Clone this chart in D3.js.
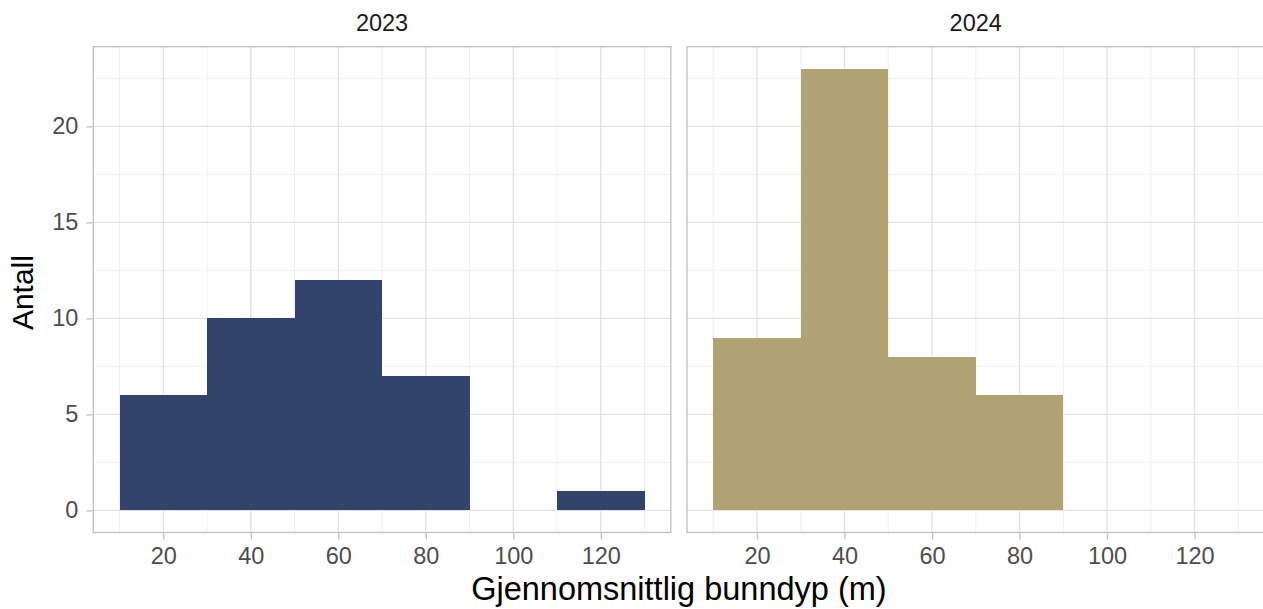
<!DOCTYPE html>
<html>
<head>
<meta charset="utf-8">
<script src="https://cdn.jsdelivr.net/npm/d3@7"></script>
<style>
  body { margin: 0; background: #fff; }
  svg { display: block; font-family: "Liberation Sans", Arial, sans-serif; }
</style>
</head>
<body>
<svg id="chart" width="1263" height="609"></svg>
<script>
// ---- data ----
const panels = ["2023", "2024"];
const binStarts = [10, 30, 50, 70, 90, 110];
const binWidth = 20;
const counts2023 = [6, 10, 12, 7, 0, 1];
const counts2024 = [9, 23, 8, 6, 0, 0];
const panelColors = ["#32446B", "#B0A272"];
const xTicks = [20, 40, 60, 80, 100, 120];
const xMinor = [10, 30, 50, 70, 90, 110, 130];
const yTicks = [0, 5, 10, 15, 20];
const yMinor = [2.5, 7.5, 12.5, 17.5, 22.5];
const xTitle = "Gjennomsnittlig bunndyp (m)";
const yTitle = "Antall";

const seriesByPanel = [counts2023, counts2024];

const svg = d3.select("#chart");
const plotTop = 46.7, plotBottom = 532.5;
const panelX = [[93.3, 670.8], [687.0, 1264.5]];

const y = d3.scaleLinear().domain([-1.15, 24.15]).range([plotBottom, plotTop]);

panels.forEach((name, i) => {
  const x = d3.scaleLinear().domain([4, 136]).range(panelX[i]);
  const g = svg.append("g");
  const [x0, x1] = panelX[i];

  // minor grid
  g.selectAll(".vminor").data(xMinor).join("line")
    .attr("x1", d => x(d)).attr("x2", d => x(d)).attr("y1", plotTop).attr("y2", plotBottom)
    .attr("stroke", "#f0f0f0").attr("stroke-width", 1);
  g.selectAll(".hminor").data(yMinor).join("line")
    .attr("x1", x0).attr("x2", x1).attr("y1", d => y(d)).attr("y2", d => y(d))
    .attr("stroke", "#f0f0f0").attr("stroke-width", 1);
  // major grid
  g.selectAll(".vmajor").data(xTicks).join("line")
    .attr("x1", d => x(d)).attr("x2", d => x(d)).attr("y1", plotTop).attr("y2", plotBottom)
    .attr("stroke", "#e3e3e3").attr("stroke-width", 1.4);
  g.selectAll(".hmajor").data(yTicks).join("line")
    .attr("x1", x0).attr("x2", x1).attr("y1", d => y(d)).attr("y2", d => y(d))
    .attr("stroke", "#e3e3e3").attr("stroke-width", 1.4);

  // bars
  const data = binStarts.map((s, k) => ({ s, c: seriesByPanel[i][k] })).filter(d => d.c > 0);
  g.selectAll("rect.bar").data(data).join("rect")
    .attr("class", "bar")
    .attr("x", d => x(d.s)).attr("width", d => x(d.s + binWidth) - x(d.s))
    .attr("y", d => y(d.c)).attr("height", d => y(0) - y(d.c))
    .attr("fill", panelColors[i])
    .attr("shape-rendering", "crispEdges");

  // border
  g.append("rect").attr("x", x0).attr("y", plotTop).attr("width", x1 - x0).attr("height", plotBottom - plotTop)
    .attr("fill", "none").attr("stroke", "#c4c4c4").attr("stroke-width", 1.4);

  // x axis
  const xa = g.append("g").attr("transform", `translate(0,${plotBottom})`)
    .call(d3.axisBottom(x).tickValues(xTicks).tickSize(7).tickPadding(7.5));
  xa.select(".domain").remove();
  xa.selectAll("line").attr("stroke", "#c4c4c4").attr("stroke-width", 1.4);
  xa.selectAll("text").attr("font-size", 23.5).attr("fill", "#4d4d4d").attr("font-family", null);

  // strip
  svg.append("text").attr("x", (x0 + x1) / 2).attr("y", 31)
    .attr("text-anchor", "middle").attr("font-size", 23.5).attr("fill", "#1a1a1a").text(name);

  if (i === 0) {
    const ya = g.append("g").attr("transform", `translate(${x0},0)`)
      .call(d3.axisLeft(y).tickValues(yTicks).tickSize(7).tickPadding(8));
    ya.select(".domain").remove();
    ya.selectAll("line").attr("stroke", "#c4c4c4").attr("stroke-width", 1.4);
    ya.selectAll("text").attr("font-size", 23.5).attr("fill", "#4d4d4d").attr("font-family", null);
  }
});

// axis titles
svg.append("text").attr("x", (93.3 + 1264.5) / 2).attr("y", 600)
  .attr("text-anchor", "middle").attr("font-size", 32.5).attr("fill", "#000").text(xTitle);
svg.append("text").attr("transform", `translate(33,${(plotTop + plotBottom) / 2 + 3}) rotate(-90)`)
  .attr("text-anchor", "middle").attr("font-size", 30).attr("fill", "#000").text(yTitle);
</script>
</body>
</html>
